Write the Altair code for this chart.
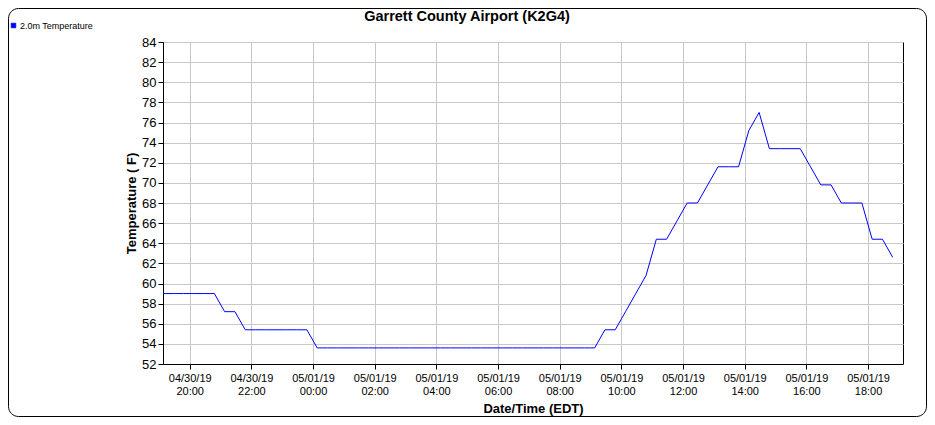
import altair as alt
import pandas as pd
from datetime import datetime

# ---- data ----
times = [
    "2019-04-30T19:08", "2019-04-30T19:28", "2019-04-30T19:48",
    "2019-04-30T20:08", "2019-04-30T20:28", "2019-04-30T20:48",
    "2019-04-30T21:08", "2019-04-30T21:28", "2019-04-30T21:48",
    "2019-04-30T22:08", "2019-04-30T22:28", "2019-04-30T22:48",
    "2019-04-30T23:08", "2019-04-30T23:28", "2019-04-30T23:48",
    "2019-05-01T00:08", "2019-05-01T00:28", "2019-05-01T00:48",
    "2019-05-01T01:08", "2019-05-01T01:28", "2019-05-01T01:48",
    "2019-05-01T02:08", "2019-05-01T02:28", "2019-05-01T02:48",
    "2019-05-01T03:08", "2019-05-01T03:28", "2019-05-01T03:48",
    "2019-05-01T04:08", "2019-05-01T04:28", "2019-05-01T04:48",
    "2019-05-01T05:08", "2019-05-01T05:28", "2019-05-01T05:48",
    "2019-05-01T06:08", "2019-05-01T06:28", "2019-05-01T06:48",
    "2019-05-01T07:08", "2019-05-01T07:28", "2019-05-01T07:48",
    "2019-05-01T08:08", "2019-05-01T08:28", "2019-05-01T08:48",
    "2019-05-01T09:08", "2019-05-01T09:28", "2019-05-01T09:48",
    "2019-05-01T10:08", "2019-05-01T10:28", "2019-05-01T10:48",
    "2019-05-01T11:08", "2019-05-01T11:28", "2019-05-01T11:48",
    "2019-05-01T12:08", "2019-05-01T12:28", "2019-05-01T12:48",
    "2019-05-01T13:08", "2019-05-01T13:28", "2019-05-01T13:48",
    "2019-05-01T14:08", "2019-05-01T14:28", "2019-05-01T14:48",
    "2019-05-01T15:08", "2019-05-01T15:28", "2019-05-01T15:48",
    "2019-05-01T16:08", "2019-05-01T16:28", "2019-05-01T16:48",
    "2019-05-01T17:08", "2019-05-01T17:28", "2019-05-01T17:48",
    "2019-05-01T18:08", "2019-05-01T18:28", "2019-05-01T18:48",
]
temps_f = [
    59.0, 59.0, 59.0,
    59.0, 59.0, 59.0,
    57.2, 57.2, 55.4,
    55.4, 55.4, 55.4,
    55.4, 55.4, 55.4,
    53.6, 53.6, 53.6,
    53.6, 53.6, 53.6,
    53.6, 53.6, 53.6,
    53.6, 53.6, 53.6,
    53.6, 53.6, 53.6,
    53.6, 53.6, 53.6,
    53.6, 53.6, 53.6,
    53.6, 53.6, 53.6,
    53.6, 53.6, 53.6,
    53.6, 55.4, 55.4,
    57.2, 59.0, 60.8,
    64.4, 64.4, 66.2,
    68.0, 68.0, 69.8,
    71.6, 71.6, 71.6,
    75.2, 77.0, 73.4,
    73.4, 73.4, 73.4,
    71.6, 69.8, 69.8,
    68.0, 68.0, 68.0,
    64.4, 64.4, 62.6,
]
series_name = "2.0m Temperature"
x_ticks = [
    "2019-04-30T20:00", "2019-04-30T22:00", "2019-05-01T00:00",
    "2019-05-01T02:00", "2019-05-01T04:00", "2019-05-01T06:00",
    "2019-05-01T08:00", "2019-05-01T10:00", "2019-05-01T12:00",
    "2019-05-01T14:00", "2019-05-01T16:00", "2019-05-01T18:00",
]
y_ticks = [52, 54, 56, 58, 60, 62, 64, 66, 68, 70, 72, 74, 76, 78, 80, 82, 84]
x_domain = ["2019-04-30T19:08", "2019-05-01T19:08"]

chart_title = "Garrett County Airport (K2G4)"
x_title = "Date/Time (EDT)"
y_title = "Temperature ( F)"

FONT = "Liberation Sans"
LINE_COLOR = "#0000ff"


def to_dt(s):
    d = datetime.fromisoformat(s)
    return alt.DateTime(year=d.year, month=d.month, date=d.day,
                        hours=d.hour, minutes=d.minute)


df = pd.DataFrame({"time": times, "temp": temps_f,
                   "series": [series_name] * len(times)})

# plot area and overall canvas (kept inside the 935x425 window)
W, H = 740, 322
PAD_L, PAD_T = 155, 34
TOTAL_W, TOTAL_H = 919, 409
PAD_R = TOTAL_W - PAD_L - W
PAD_B = TOTAL_H - PAD_T - H

line = alt.Chart(df).mark_line(strokeWidth=1, interpolate="linear").encode(
    x=alt.X("time:T",
            scale=alt.Scale(domain=[to_dt(s) for s in x_domain], nice=False),
            axis=alt.Axis(
                values=[to_dt(s) for s in x_ticks],
                labelExpr="[timeFormat(datum.value, '%m/%d/%y'), timeFormat(datum.value, '%H:%M')]",
                labelFont=FONT, labelFontSize=11, labelColor="#000000",
                labelLineHeight=13, labelPadding=3, labelFlush=False,
                labelOverlap=False,
                tickSize=5, tickColor="#000000", domainColor="#000000",
                gridColor="#c8c8c8", grid=True,
                title=x_title, titleFont=FONT, titleFontSize=13,
                titleFontWeight="bold", titleColor="#000000",
                titleX=W / 2, titleY=44, titleBaseline="middle",
                titleAlign="center",
            )),
    y=alt.Y("temp:Q",
            scale=alt.Scale(domain=[52, 84], nice=False, zero=False),
            axis=alt.Axis(
                values=y_ticks,
                labelFont=FONT, labelFontSize=13, labelColor="#000000",
                labelPadding=2, labelFlush=False, labelOverlap=False,
                tickSize=5, tickColor="#000000", domainColor="#000000",
                gridColor="#c8c8c8", grid=True,
                title=y_title, titleFont=FONT, titleFontSize=13,
                titleFontWeight="bold", titleColor="#000000",
                titleAngle=270, titleX=-32, titleY=H / 2,
                titleBaseline="middle", titleAlign="center",
            )),
    color=alt.Color("series:N",
                    scale=alt.Scale(range=[LINE_COLOR]),
                    legend=alt.Legend(
                        orient="none", legendX=-154, legendY=-21,
                        title=None, symbolType="square", symbolSize=22,
                        symbolFillColor=LINE_COLOR, symbolStrokeColor="#000060",
                        symbolStrokeWidth=0.6, labelFont=FONT,
                        labelFontSize=9, labelColor="#000000",
                        labelOffset=2, padding=0,
                    )),
)

one = alt.Data(values=[{}])

title_text = alt.Chart(one).mark_text(
    text=chart_title, font=FONT, fontSize=14.5, fontWeight="bold",
    color="#000000", align="center", baseline="middle",
).encode(x=alt.value(304), y=alt.value(-25))

border = alt.Chart(one).mark_rect(
    fill="transparent", stroke="#000000", strokeWidth=1, cornerRadius=10,
).encode(x=alt.value(-PAD_L + 0.5), x2=alt.value(W + PAD_R - 0.5),
         y=alt.value(-PAD_T + 0.5), y2=alt.value(H + PAD_B - 0.5))

chart = alt.layer(border, line, title_text).properties(
    width=W, height=H,
    padding={"left": PAD_L, "top": PAD_T, "right": PAD_R, "bottom": PAD_B},
    autosize=alt.AutoSizeParams(type="none"),
    background="#ffffff",
).configure_view(stroke="#000000", strokeWidth=1)

chart.save("out.html", embed_options={"renderer": "svg", "actions": False})
